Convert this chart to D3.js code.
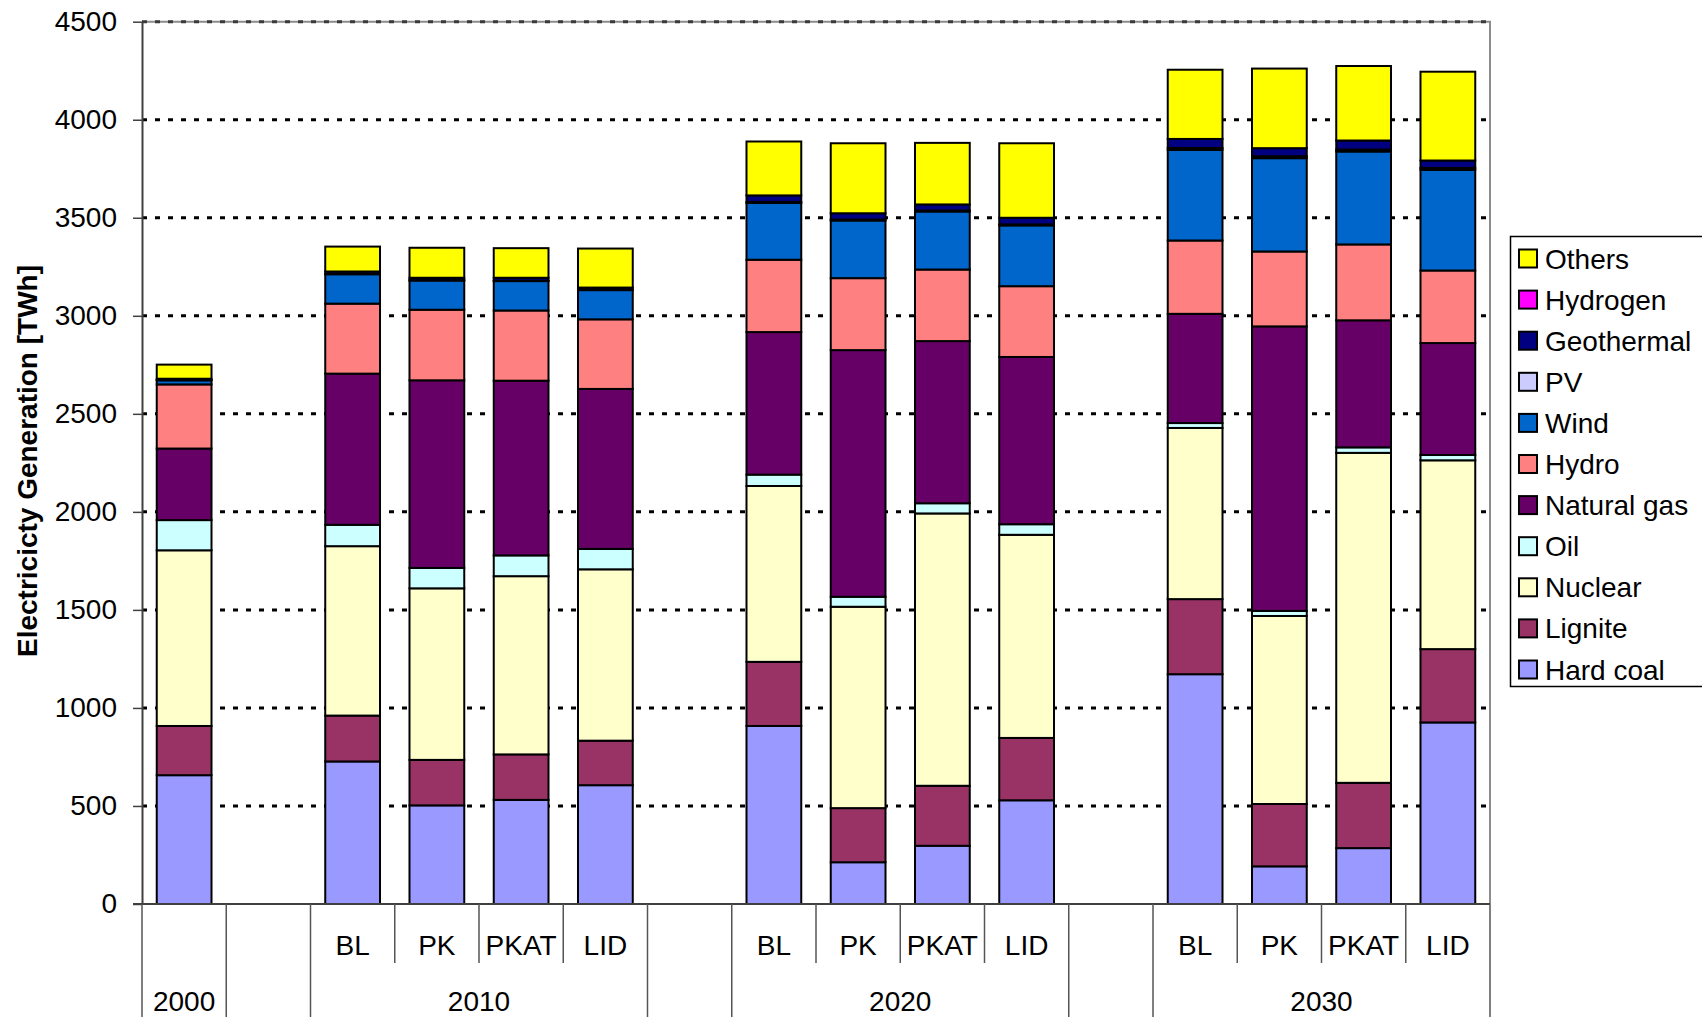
<!DOCTYPE html>
<html>
<head>
<meta charset="utf-8">
<script src="https://cdnjs.cloudflare.com/ajax/libs/d3/7.8.5/d3.min.js"></script>
<style>
  body { margin: 0; background: #fff; }
  svg { display: block; font-family: "Liberation Sans", Arial, Helvetica, sans-serif; }
</style>
</head>
<body>
<script>
// bars, left to right
const barKeys = ['2000', '2010 BL', '2010 PK', '2010 PKAT', '2010 LID',
                 '2020 BL', '2020 PK', '2020 PKAT', '2020 LID',
                 '2030 BL', '2030 PK', '2030 PKAT', '2030 LID'];
// category slots including the empty ones between years
const slots = ['2000', 'gap1', '2010 BL', '2010 PK', '2010 PKAT', '2010 LID', 'gap2',
               '2020 BL', '2020 PK', '2020 PKAT', '2020 LID', 'gap3',
               '2030 BL', '2030 PK', '2030 PKAT', '2030 LID'];
const groupYears = ['2000', '', '2010', '', '2020', '', '2030'];
const groupSizes = [1, 1, 4, 1, 4, 1, 4];

const hardCoal   = [657, 727, 503, 531, 606, 908, 213, 297, 529, 1172, 192, 285, 926];
const lignite    = [251, 234, 232, 232, 227, 327, 276, 306, 318, 383, 318, 333, 374];
const nuclear    = [896, 864, 875, 909, 874, 897, 1027, 1389, 1036, 873, 959, 1683, 963];
const oil        = [154, 109, 104, 106, 104, 58, 51, 52, 54, 25, 26, 28, 27];
const naturalGas = [365, 771, 957, 891, 816, 727, 1258, 827, 853, 557, 1451, 648, 571];
const hydro      = [327, 357, 360, 358, 355, 369, 367, 365, 361, 374, 382, 387, 370];
const wind       = [21, 150, 149, 150, 149, 290, 294, 296, 310, 462, 476, 474, 513];
const pv         = [1, 2, 2, 2, 2, 5, 5, 5, 5, 10, 10, 10, 10];
const geothermal = [7, 12, 12, 15, 11, 33, 32, 31, 34, 46, 41, 46, 38];
const hydrogen   = [0, 0, 0, 0, 0, 0, 0, 0, 0, 0, 0, 0, 0];
const others     = [72, 127, 153, 151, 199, 275, 357, 314, 380, 353, 406, 380, 453];

const seriesNames = ['Hard coal', 'Lignite', 'Nuclear', 'Oil', 'Natural gas', 'Hydro',
                     'Wind', 'PV', 'Geothermal', 'Hydrogen', 'Others'];
const seriesValues = [hardCoal, lignite, nuclear, oil, naturalGas, hydro,
                      wind, pv, geothermal, hydrogen, others];
const colors = ['#9999ff', '#993366', '#ffffcc', '#ccffff', '#660066', '#ff8080',
                '#0066cc', '#ccccff', '#000080', '#ff00ff', '#ffff00'];
const yTicks = [0, 500, 1000, 1500, 2000, 2500, 3000, 3500, 4000, 4500];

const w = 1702;
const h = 1017;
const pLeft = 142, pRight = 1490, pTop = 21.7, pBottom = 904;

const rows = barKeys.map((k, i) => {
  const r = { key: k };
  seriesNames.forEach((s, j) => r[s] = seriesValues[j][i]);
  return r;
});
const stacked = d3.stack().keys(seriesNames)(rows);

const svg = d3.select('body').append('svg')
              .attr('width', w)
              .attr('height', h);

const x = d3.scaleBand()
            .domain(slots)
            .range([pLeft, pRight])
            .paddingInner(0.35)
            .paddingOuter(0.175);
const y = d3.scaleLinear()
            .domain([0, 4500])
            .range([pBottom, pTop]);

// plot border, top and right
svg.append('path')
   .attr('d', `M${pLeft},${pTop}H${pRight}V${pBottom}`)
   .attr('fill', 'none')
   .attr('stroke', '#8c8c8c')
   .attr('stroke-width', 2);

// gridlines
svg.append('g')
   .selectAll('line')
   .data(yTicks.filter(t => t > 0))
   .enter()
   .append('line')
   .attr('x1', pLeft)
   .attr('x2', pRight)
   .attr('y1', d => y(d))
   .attr('y2', d => y(d))
   .attr('stroke', d => d === 4500 ? '#3a3a3a' : '#000')
   .attr('stroke-width', 3)
   .attr('stroke-dasharray', '5,8');

// stacked bars
svg.append('g')
   .selectAll('g')
   .data(stacked)
   .enter()
   .append('g')
   .attr('fill', (d, i) => colors[i])
   .selectAll('rect')
   .data(d => d.filter(p => p[1] - p[0] > 0))
   .enter()
   .append('rect')
   .attr('x', d => x(d.data.key))
   .attr('width', x.bandwidth())
   .attr('y', d => y(d[1]))
   .attr('height', d => y(d[0]) - y(d[1]))
   .attr('stroke', '#000')
   .attr('stroke-width', 2);

// y axis
const yAxis = svg.append('g')
                 .attr('transform', `translate(${pLeft},0)`)
                 .call(d3.axisLeft(y)
                         .tickValues(yTicks)
                         .tickFormat(d3.format('d'))
                         .tickSize(9)
                         .tickPadding(16)
                         .tickSizeOuter(0));
yAxis.select('.domain').attr('stroke', '#404040').attr('stroke-width', 2);
yAxis.selectAll('.tick line').attr('stroke', '#404040').attr('stroke-width', 1.5);
yAxis.selectAll('.tick text')
     .attr('font-size', 28)
     .attr('font-family', '"Liberation Sans", Arial, sans-serif')
     .attr('fill', '#000');

svg.append('text')
   .attr('transform', 'translate(37,461) rotate(-90)')
   .attr('text-anchor', 'middle')
   .attr('font-size', 28)
   .attr('font-weight', 'bold')
   .text('Electricicty Generation [TWh]');

// category axis: baseline, separators and two label rows
const step = x.step();
const edge = i => pLeft + i * step;
svg.append('line')
   .attr('x1', pLeft - 9).attr('x2', pRight)
   .attr('y1', pBottom).attr('y2', pBottom)
   .attr('stroke', '#404040').attr('stroke-width', 2);

let groupEdges = [0];
groupSizes.forEach(s => groupEdges.push(groupEdges[groupEdges.length - 1] + s));

svg.append('g')
   .selectAll('line')
   .data(d3.range(slots.length + 1))
   .enter()
   .append('line')
   .attr('x1', i => edge(i))
   .attr('x2', i => edge(i))
   .attr('y1', pBottom)
   .attr('y2', i => groupEdges.includes(i) ? h : 963)
   .attr('stroke', '#555')
   .attr('stroke-width', 1.5);

svg.append('g')
   .selectAll('text')
   .data(slots)
   .enter()
   .append('text')
   .attr('x', d => x(d) + x.bandwidth() / 2)
   .attr('y', 955)
   .attr('text-anchor', 'middle')
   .attr('font-size', 28)
   .text(d => d.includes(' ') ? d.split(' ')[1] : '');

svg.append('g')
   .selectAll('text')
   .data(groupYears)
   .enter()
   .append('text')
   .attr('x', (d, i) => (edge(groupEdges[i]) + edge(groupEdges[i + 1])) / 2)
   .attr('y', 1011)
   .attr('text-anchor', 'middle')
   .attr('font-size', 28)
   .text(d => d);

// legend
const legend = svg.append('g').attr('id', 'legend');
legend.append('rect')
      .attr('x', 1510.5)
      .attr('y', 236.5)
      .attr('width', 220)
      .attr('height', 450)
      .attr('fill', '#fff')
      .attr('stroke', '#000')
      .attr('stroke-width', 1.5);
const legendOrder = seriesNames.map((n, i) => i).reverse();
const item = legend.selectAll('g.item')
                   .data(legendOrder)
                   .enter()
                   .append('g')
                   .attr('class', 'item')
                   .attr('transform', (d, k) => `translate(0,${258.5 + k * 41.1})`);
item.append('rect')
    .attr('x', 1519)
    .attr('y', -9)
    .attr('width', 18)
    .attr('height', 18)
    .attr('fill', d => colors[d])
    .attr('stroke', '#000')
    .attr('stroke-width', 2);
item.append('text')
    .attr('x', 1545)
    .attr('y', 10)
    .attr('font-size', 28)
    .text(d => seriesNames[d]);
</script>
</body>
</html>
